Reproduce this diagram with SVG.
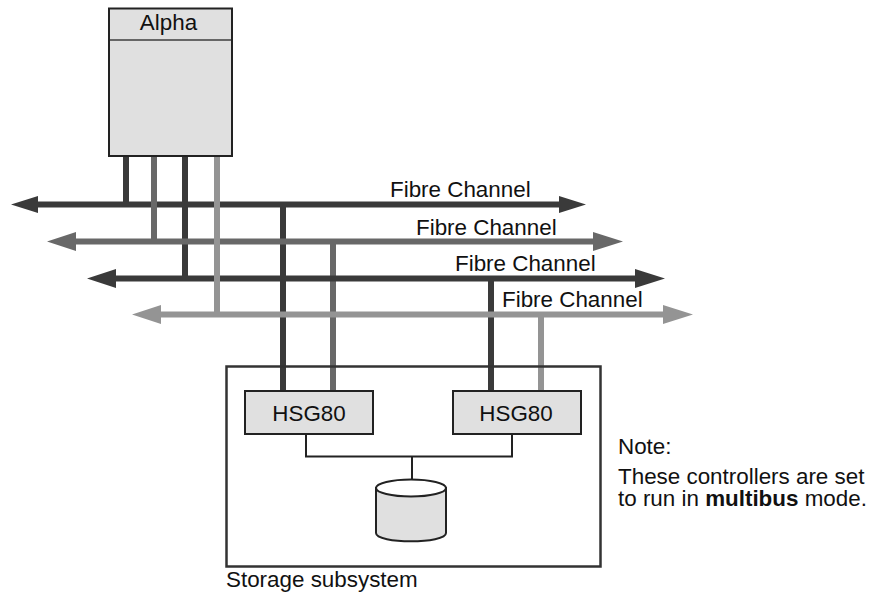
<svg xmlns="http://www.w3.org/2000/svg" width="870" height="593" viewBox="0 0 870 593">
<style>
text{font-family:"Liberation Sans",Arial,sans-serif;font-size:22.4px;fill:#111}
.n{fill:#e0e0e0;stroke:#222;stroke-width:2}
.thin{fill:none;stroke:#222;stroke-width:2}
.c1{stroke:#3a3a3a;fill:none;stroke-width:6}
.c2{stroke:#686868;fill:none;stroke-width:6}
.c3{stroke:#949494;fill:none;stroke-width:6}
.h1{fill:#3a3a3a}.h2{fill:#686868}.h3{fill:#949494}
</style>
<rect width="870" height="593" fill="#fff"/>
<g id="connectors">
<path class="c1" d="M36 204.500H562M126 157V204M185 157V278M283 204V392"/>
<path class="h1" d="M11 204.500L38 196V213ZM586 204.500L559 196V213Z"/>
<path class="c2" d="M74 241.500H596M154 157V241M333 241V392"/>
<path class="h2" d="M47 241.500L76 232V251ZM623 241.500L593 232V251Z"/>
<path class="c1" d="M114 278.500H638M491 278V392"/>
<path class="h1" d="M87 278.500L116 269V288ZM665 278.500L635 269V288Z"/>
<path class="c3" d="M159 314.500H666M217 157V314M541 314V392"/>
<path class="h3" d="M132 314.500L161 305V324ZM693 314.500L663 305V324Z"/>
<path class="thin" d="M306 434V456.500H512V434M412 456.500V480"/>
</g>
<g id="alpha">
<rect class="n" x="109" y="8.500" width="123" height="147.500"/>
<path d="M110 40H231" stroke="#666" stroke-width="2" fill="none"/>
<text x="168.500" y="30" text-anchor="middle">Alpha</text>
</g>
<g id="fc-labels">
<text x="390" y="197">Fibre Channel</text>
<text x="416" y="235">Fibre Channel</text>
<text x="455" y="271">Fibre Channel</text>
<text x="502" y="307">Fibre Channel</text>
</g>
<g id="storage-subsystem">
<rect x="226.500" y="366.500" width="374" height="200" fill="none" stroke="#333" stroke-width="2.500"/>
<text x="226" y="587">Storage subsystem</text>
</g>
<g id="hsg80-left">
<rect class="n" x="245" y="391" width="128" height="43"/>
<text x="309" y="421" text-anchor="middle">HSG80</text>
</g>
<g id="hsg80-right">
<rect class="n" x="453" y="391" width="128" height="43"/>
<text x="516" y="421" text-anchor="middle">HSG80</text>
</g>
<g id="disk">
<path class="n" d="M376 488V533C376 544 446 544 446 533V488Z"/>
<ellipse cx="411" cy="488" rx="35" ry="8.500" fill="#fff" stroke="#222" stroke-width="2"/>
</g>
<g id="note">
<text x="618" y="454">Note:</text>
<text x="618" y="484">These controllers are set</text>
<text x="618" y="506">to run in <tspan font-weight="bold">multibus</tspan> mode.</text>
</g>
</svg>
